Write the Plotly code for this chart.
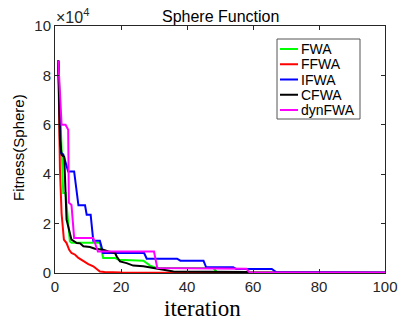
import plotly.graph_objects as go

# ---- data (fitness values in units of 1e4) ----
names = ["FWA", "FFWA", "IFWA", "CFWA", "dynFWA"]
colors = ["#00FF00", "#FF0000", "#0000FF", "#000000", "#FF00FF"]

fwa_x = [1, 2, 2.5, 3.2, 4.5, 5, 13.6, 14.6, 18.2, 19.2, 26.8, 28.8, 30.8, 48, 49, 100]
fwa_y = [8.6, 5.0, 3.24, 3.24, 1.28, 1.22, 1.22, 0.61, 0.61, 0.54, 0.5, 0.3, 0.2, 0.2, 0.04, 0.02]

ffwa_x = [1, 1.5, 2, 2.7, 3.5, 4.3, 5, 6.1, 7.1, 8.6, 10.1, 11.6, 13.1, 13.6, 15, 20, 100]
ffwa_y = [8.6, 4.2, 2.4, 1.35, 1.21, 0.94, 0.81, 0.74, 0.61, 0.47, 0.36, 0.27, 0.13, 0.06, 0.04, 0.02, 0.0]

ifwa_x = [1, 1.8, 2.5, 4, 5.8, 7.1, 9.1, 9.6, 10.8, 11.6, 13.6, 14.6, 27, 27.8, 37, 38, 45, 45.8, 54, 55, 65.7, 67, 100]
ifwa_y = [8.6, 4.86, 4.8, 4.11, 4.11, 2.74, 2.74, 2.36, 2.36, 1.31, 1.31, 0.81, 0.81, 0.58, 0.58, 0.5, 0.5, 0.23, 0.23, 0.16, 0.16, 0.04, 0.02]

cfwa_x = [1, 1.5, 2, 2.8, 3.5, 5, 6.6, 7.6, 8.6, 10.6, 12.1, 14.6, 16.2, 18.2, 18.7, 19.7, 21.7, 23.7, 26.8, 30.8, 33.8, 35.9, 58, 59, 100]
cfwa_y = [8.6, 5.4, 4.79, 4.7, 2.16, 1.35, 1.21, 1.2, 1.08, 1.05, 0.98, 0.94, 0.87, 0.81, 0.67, 0.47, 0.4, 0.3, 0.27, 0.17, 0.1, 0.06, 0.04, 0.01, 0.01]

dyn_x = [1, 2, 3.2, 4, 4.2, 5, 5.8, 11.6, 13, 30, 31, 58, 59, 100]
dyn_y = [8.6, 6.0, 6.0, 5.8, 2.85, 2.75, 1.42, 1.42, 0.87, 0.87, 0.2, 0.17, 0.02, 0.02]

xs = [fwa_x, ffwa_x, ifwa_x, cfwa_x, dyn_x]
ys = [fwa_y, ffwa_y, ifwa_y, cfwa_y, dyn_y]

x_ticks = [0, 20, 40, 60, 80, 100]
y_ticks = [0, 2, 4, 6, 8, 10]

SANS = "Liberation Sans, Arial, sans-serif"
SERIF = "Liberation Serif, Times New Roman, serif"

fig = go.Figure()
for n, c, x, y in zip(names, colors, xs, ys):
    fig.add_trace(go.Scatter(x=x, y=y, mode="lines", name=n,
                             line=dict(color=c, width=2), showlegend=False))

# plot area in pixels: left 55, right 385, top 26, bottom 273
L, R, T, B = 55, 385, 26, 273
W, H = R - L, B - T
def px(xp):
    return (xp - L) / W
def py(yp):
    return (B - yp) / H

axis_common = dict(showline=True, linecolor="#262626", linewidth=1, mirror="ticks",
                   ticks="inside", ticklen=4, tickcolor="#262626", showgrid=False,
                   zeroline=False, automargin=False,
                   tickfont=dict(family=SANS, size=15, color="#262626"))

fig.update_layout(
    width=398, height=320, autosize=False,
    margin=dict(l=L, r=398 - R, t=T, b=320 - B, pad=0, autoexpand=False),
    paper_bgcolor="white", plot_bgcolor="white",
    xaxis=dict(range=[0, 100], tickvals=x_ticks, **axis_common),
    yaxis=dict(range=[0, 10], tickvals=y_ticks, **axis_common),
    showlegend=False,
)

ann = []
ann.append(dict(text="Sphere Function", x=0.5, y=py(16), xref="paper", yref="paper",
                showarrow=False, font=dict(family=SANS, size=16, color="black"),
                xanchor="center", yanchor="middle"))
ann.append(dict(text="×10<sup>4</sup>", x=px(54), y=py(16), xref="paper", yref="paper",
                showarrow=False, font=dict(family=SANS, size=16, color="#262626"),
                xanchor="left", yanchor="middle"))
ann.append(dict(text="Fitness(Sphere)", x=px(18), y=py(148), xref="paper", yref="paper",
                showarrow=False, textangle=-90, font=dict(family=SANS, size=15, color="black"),
                xanchor="center", yanchor="middle"))
ann.append(dict(text="iteration", x=px(202), y=py(308), xref="paper", yref="paper",
                showarrow=False, font=dict(family=SERIF, size=23, color="black"),
                xanchor="center", yanchor="middle"))

shapes = []
# custom legend box
shapes.append(dict(type="rect", xref="paper", yref="paper",
                   x0=px(277), x1=px(360), y0=py(119), y1=py(39),
                   line=dict(color="#555555", width=1), fillcolor="white", layer="above"))
for i, (n, c) in enumerate(zip(names, colors)):
    yy = 49 + 15.25 * i
    shapes.append(dict(type="line", xref="paper", yref="paper",
                       x0=px(280), x1=px(298), y0=py(yy), y1=py(yy),
                       line=dict(color=c, width=2), layer="above"))
    ann.append(dict(text=n, x=px(299), y=py(yy), xref="paper", yref="paper",
                    showarrow=False, font=dict(family=SANS, size=14, color="black"),
                    xanchor="left", yanchor="middle"))

fig.update_layout(annotations=ann, shapes=shapes)
fig.write_html("out.html")
